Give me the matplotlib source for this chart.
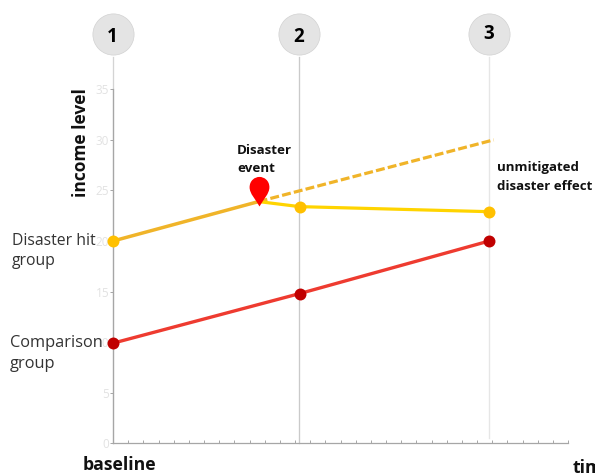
import matplotlib
matplotlib.use("Agg")
import matplotlib.pyplot as plt
from matplotlib.path import Path

# Data
wave_x = [0, 12.27, 24.8]
wave_labels = ["1", "2", "3"]
wave_line_colors = ["#D4D4D4", "#CACACA", "#E6E6E6"]
hit_before_x = [0, 9.6]
hit_before_y = [20, 23.9]
hit_after_x = [9.6, 12.3, 24.8]
hit_after_y = [23.9, 23.4, 22.9]
hit_marker_x = [0, 12.3, 24.8]
hit_marker_y = [20, 23.4, 22.9]
counter_x = [9.6, 25.1]
counter_y = [23.9, 30]
comp_x = [0, 12.3, 24.8]
comp_y = [9.9, 14.8, 20]
y_ticks = [0, 5, 10, 15, 20, 25, 30, 35]
x_ticks = list(range(0, 31))
event_x, event_y = 9.6, 23.6
badge_y = 40.5
badge_text_y = [40.2, 40.2, 40.5]

W, H = 595, 475
fig = plt.figure(figsize=(W / 100, H / 100), dpi=100, facecolor="white")
ax = fig.add_axes([113 / W, (H - 443.3) / H, 455 / W, 354 / H])
ax.set_xlim(0, 30)
ax.set_ylim(0, 35)
for s in ("top", "right"):
    ax.spines[s].set_visible(False)
for s in ("left", "bottom"):
    ax.spines[s].set_color("#A6A6A6")
    ax.spines[s].set_linewidth(0.9)

ax.set_xticks(x_ticks)
ax.set_xticklabels([])
ax.tick_params(axis="x", direction="in", length=2.4, width=0.7, color="#A6A6A6")
ax.set_yticks(y_ticks)
ax.set_yticklabels([str(v) for v in y_ticks], fontsize=8.5, color="#E2E2E2", family="Open Sans")
ax.tick_params(axis="y", direction="out", length=2.2, width=0.7, color="#A6A6A6", pad=0.5)

# Wave guide lines and numbered badges
bottoms = [0, 0, 0.5]
for x, c, b in zip(wave_x, wave_line_colors, bottoms):
    ax.plot([x, x], [b, 38.2], color=c, lw=0.95, clip_on=False, zorder=1)
for x, lab, ty in zip(wave_x, wave_labels, badge_text_y):
    ax.scatter([x], [badge_y], s=880, color="#E4E4E4", edgecolor="#D2D2D2", lw=0.5,
               clip_on=False, zorder=2)
    ax.text(x - 0.05, ty, lab, ha="center", va="center", fontsize=13.5, fontweight="bold",
            family="Open Sans", color="black", zorder=3)

# Series
ax.plot(counter_x, counter_y, color="#F0B429", lw=2.3, ls=(0, (2.8, 1.0)), zorder=4, clip_on=False)
ax.plot(hit_before_x, hit_before_y, color="#F0B429", lw=2.5, zorder=4)
ax.plot(hit_after_x, hit_after_y, color="#FFD400", lw=2.3, zorder=4)
ax.plot(comp_x, comp_y, color="#EE3B30", lw=2.4, zorder=4)
ax.plot(hit_marker_x, hit_marker_y, ls="none", marker="o", ms=8.6, color="#FFC000", mew=0,
        zorder=5, clip_on=False)
ax.plot(comp_x, comp_y, ls="none", marker="o", ms=8.6, color="#C00000", mew=0, zorder=5, clip_on=False)

# Event pin
verts = [(0, -1.0), (-0.25, -0.55), (-0.62, -0.2), (-0.62, 0.2), (-0.62, 0.62), (-0.3, 0.85),
         (0, 0.85), (0.3, 0.85), (0.62, 0.62), (0.62, 0.2), (0.62, -0.2), (0.25, -0.55), (0, -1.0), (0, -1.0)]
codes = [Path.MOVETO] + [Path.CURVE4] * 12 + [Path.CLOSEPOLY]
pin = Path(verts, codes)
ax.plot([event_x], [event_y + 1.45], marker=pin, ms=23, color="#FF0000", mew=0, ls="none", zorder=6)


def px(x, y, s, **kw):
    fig.text(x / W, (H - y) / H, s, **kw)


bold = dict(family="Open Sans", fontweight="bold", color="#111111")
light = dict(family="Open Sans", fontweight="normal", color="#333333")
px(237, 150, "Disaster", fontsize=9.6, va="center", **bold)
px(237, 169, "event", fontsize=9.6, va="center", **bold)
px(497, 167, "unmitigated", fontsize=9.5, va="center", **bold)
px(497, 187, "disaster effect", fontsize=9.5, va="center", **bold)
px(12, 241, "Disaster hit", fontsize=11.3, va="center", **light)
px(12, 261, "group", fontsize=11.3, va="center", **light)
px(10, 343, "Comparison", fontsize=11.8, va="center", **light)
px(10, 364, "group", fontsize=11.8, va="center", **light)
px(83, 465, "baseline", fontsize=12.7, va="center", **bold)
px(573, 468, "time", fontsize=12.7, va="center", **bold)
px(81, 143, "income level", fontsize=12.5, va="center", ha="center", rotation=90, **bold)

fig.savefig("out.png", dpi=100)
